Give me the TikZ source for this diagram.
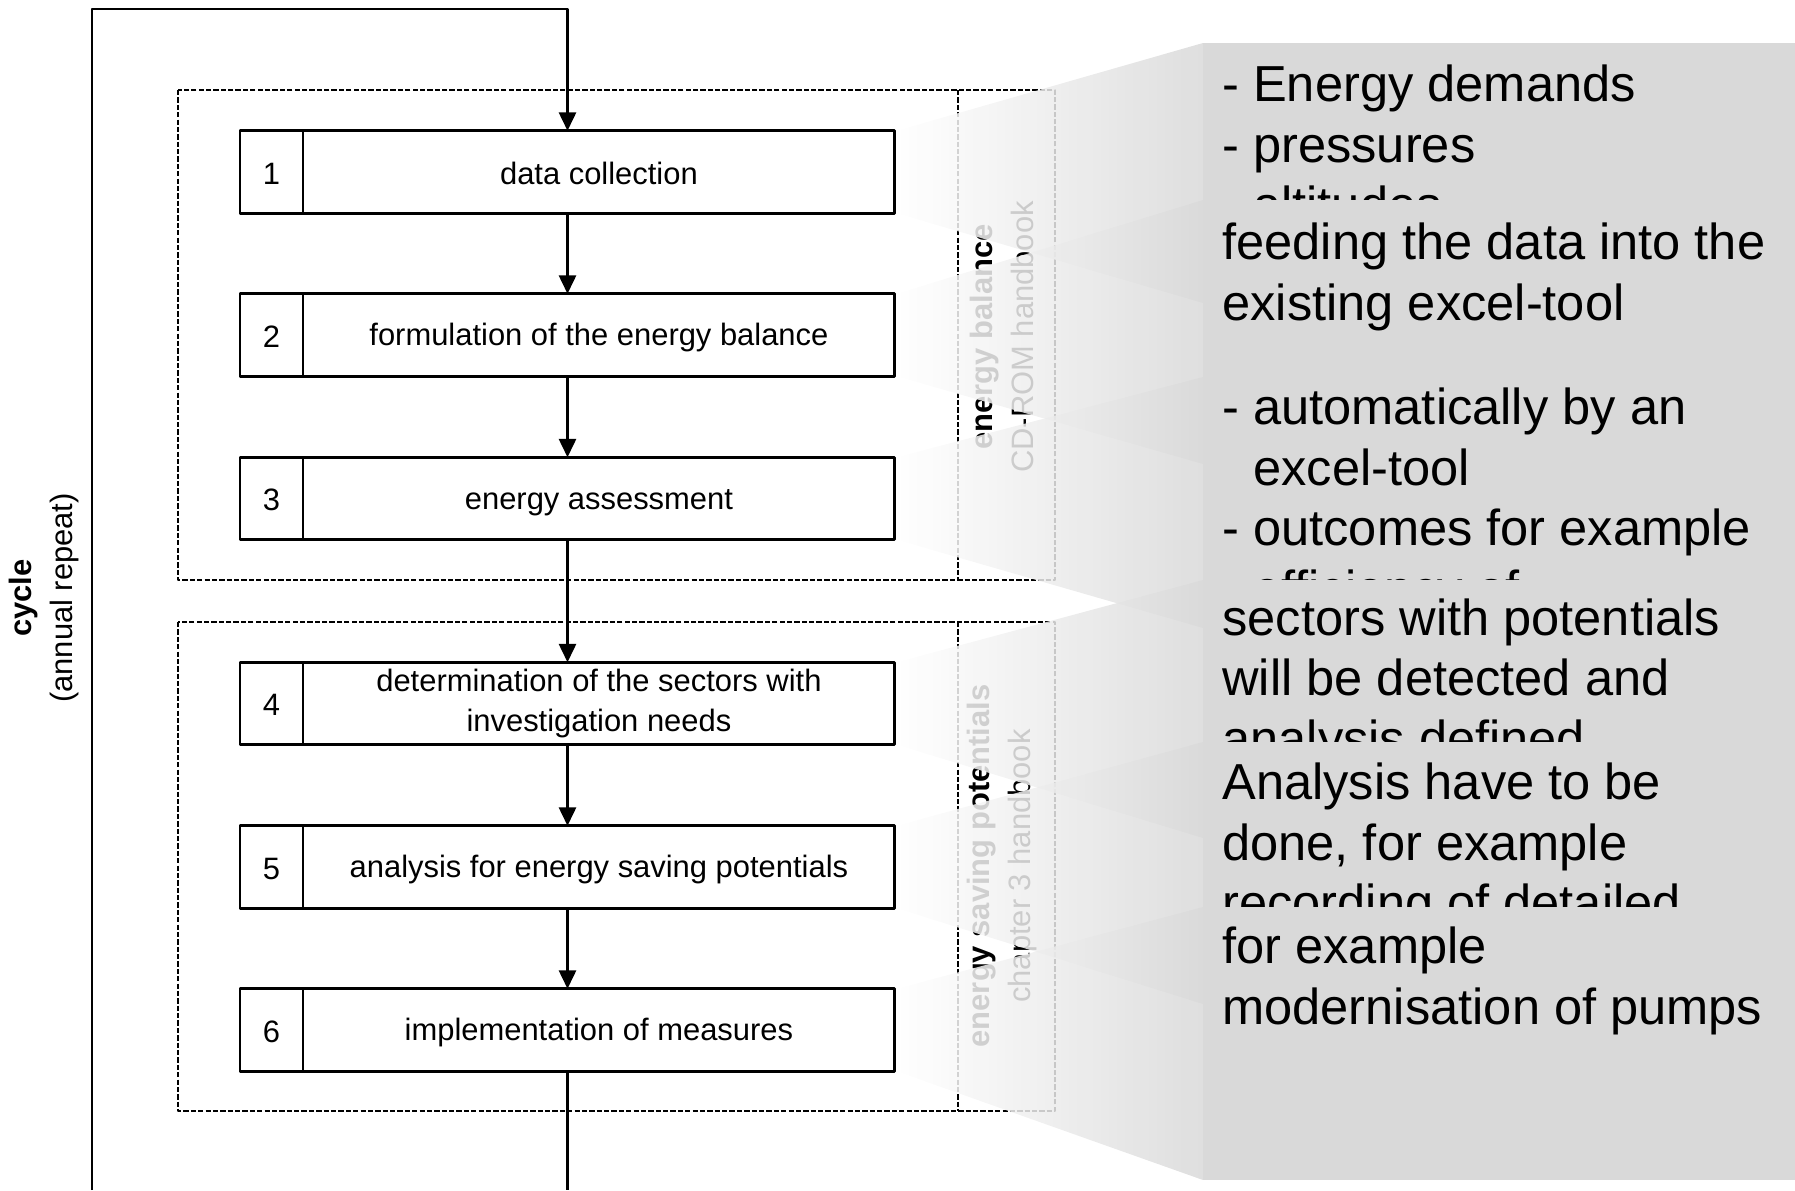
\documentclass[tikz,border=0pt]{standalone}
\usepackage{fontspec}
\setmainfont{Liberation Sans}
\usetikzlibrary{positioning,arrows.meta}
\tikzset{
	numcell/.style={draw, line width=1.6pt, outer sep=0pt, inner sep=0pt, minimum width=1.26cm, minimum height=1.65cm, font=\fontsize{17.6}{22.8}\selectfont, execute at begin node=\rule[-2pt]{0pt}{18pt}, execute at end node=\rule[-2pt]{0pt}{18pt}},
	stepcell/.style={numcell, minimum width=11.84cm, align=center},
	flow/.style={line width=1.3pt, -{Triangle[length=10.5pt,width=9.8pt]}},
	region/.style={line width=0.8pt, dash pattern=on 3pt off 1.2pt},
	sidelabel/.style={rotate=90, align=center, font=\fontsize{17.6}{23}\selectfont},
	wedge/.style={left color=white, right color=black!15, opacity=0.85},
	panel/.style={fill=black!15},
	paneltext/.style={anchor=north west, inner sep=0pt, align=left, font=\fontsize{28.8}{34.5}\selectfont, execute at begin node=\strut}
}
\begin{document}
\begin{tikzpicture}[x=0.02cm, y=-0.02cm, line join=round]
	\useasboundingbox (0,0) rectangle (1795,1190);
	% dashed regions
	\draw[region] (178,90) rectangle (1055,580);
	\draw[region] (958,90) -- (958,580);
	\draw[region] (178,622) rectangle (1055,1111);
	\draw[region] (958,622) -- (958,1111);
	\node[sidelabel] (labA) at (1002,337) {\textbf{energy balance}\\CD-ROM handbook};
	\node[sidelabel] (labB) at (1002,866) {\textbf{energy saving potentials}\\chapter 3 handbook};
	% steps
	\foreach \i/\y/\txt in {1/172/data collection, 2/335/formulation of the energy balance, 3/498.5/energy assessment, 4/703.5/{determination of the sectors with\\investigation needs}, 5/867/analysis for energy saving potentials, 6/1030/implementation of measures}{
		\node[numcell] (n\i) at (271.5,\y) {\i};
		\node[stepcell, right=0pt of n\i] (s\i) {\txt};}
	% cycle
	\coordinate (spine) at (567.5,0);
	\coordinate (loopin) at (92,1190);
	\coordinate (looptop) at (92,9);
	\draw[flow] (loopin) -- (looptop) -| (s1.north -| spine);
	\foreach \a/\b in {1/2,2/3,3/4,4/5,5/6}
		\draw[flow] (s\a.south -| spine) -- (s\b.north -| spine);
	\draw[line width=1.3pt] (s6.south -| spine) -- (spine |- loopin);
	\node[sidelabel] (cyc) at (44,598) {\textbf{cycle}\\(annual repeat)};
	% callouts
	\foreach \i/\pt/\pb/\ty/\txt in {1/43/303/64.6/{- Energy demands\\- pressures\\- altitudes},
		2/200/464/222.6/{feeding the data into the\\existing excel-tool},
		3/377/628/387.6/{- automatically by an\\\hphantom{-} excel-tool\\- outcomes for example\\\hphantom{-} efficiency of},
		4/580/838/598.1/{sectors with potentials\\will be detected and\\analysis defined},
		5/742/1004/762.6/{Analysis have to be\\done, for example\\recording of detailed},
		6/907/1180/926.6/{for example\\modernisation of pumps}}{
		\shade[wedge] ([xshift=1pt]s\i.north east) -- (1203,\pt) -- (1203,\pb) -- ([xshift=1pt]s\i.south east) -- cycle;
		\fill[panel] (1203,\pt) rectangle (1795,\pb);
		\node[paneltext] (c\i) at (1222,\ty) {\txt};}
\end{tikzpicture}
\end{document}
